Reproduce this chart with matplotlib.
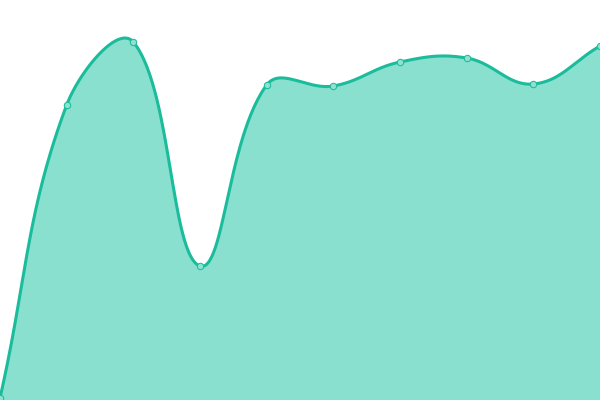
import numpy as np
import matplotlib
matplotlib.use("Agg")
import matplotlib.pyplot as plt

# data (x index, values in pixel-height units)
labels = list(range(10))
values = [2, 295, 358, 134, 315, 314, 338, 342, 316, 354]

W, H = 600, 400
xs = np.linspace(0, W, len(values))
ys = np.array(values, dtype=float)

tension = 0.4
pts = np.column_stack([xs, ys])
n = len(pts)
cp_prev = np.zeros_like(pts)
cp_next = np.zeros_like(pts)
for i in range(n):
    p = pts[i]
    prev = pts[i - 1] if i > 0 else p
    nxt = pts[i + 1] if i < n - 1 else p
    d01 = np.hypot(*(p - prev))
    d12 = np.hypot(*(nxt - p))
    tot = d01 + d12
    s01 = d01 / tot if tot else 0
    s12 = d12 / tot if tot else 0
    cp_prev[i] = p - tension * s01 * (nxt - prev)
    cp_next[i] = p + tension * s12 * (nxt - prev)

cx, cy = [], []
t = np.linspace(0, 1, 60)
for i in range(n - 1):
    P0, P1, P2, P3 = pts[i], cp_next[i], cp_prev[i + 1], pts[i + 1]
    b = ((1 - t) ** 3)[:, None] * P0 + (3 * (1 - t) ** 2 * t)[:, None] * P1 \
        + (3 * (1 - t) * t ** 2)[:, None] * P2 + (t ** 3)[:, None] * P3
    cx.extend(b[:, 0]); cy.extend(b[:, 1])
cx = np.array(cx); cy = np.array(cy)

fig = plt.figure(figsize=(6, 4), dpi=100)
ax = fig.add_axes([0, 0, 1, 1])
ax.set_xlim(0, W)
ax.set_ylim(0, H)
ax.axis("off")

ax.fill_between(cx, 0, cy, color="#89e0cf", linewidth=0)
ax.plot(cx, cy, color="#1abc9c", linewidth=2.2, solid_capstyle="round")
ax.plot(xs, ys, linestyle="none", marker="o", markersize=4.6,
        markerfacecolor="#8fe2d1", markeredgecolor="#1abc9c", markeredgewidth=0.75)

fig.savefig("out.png", dpi=100)
